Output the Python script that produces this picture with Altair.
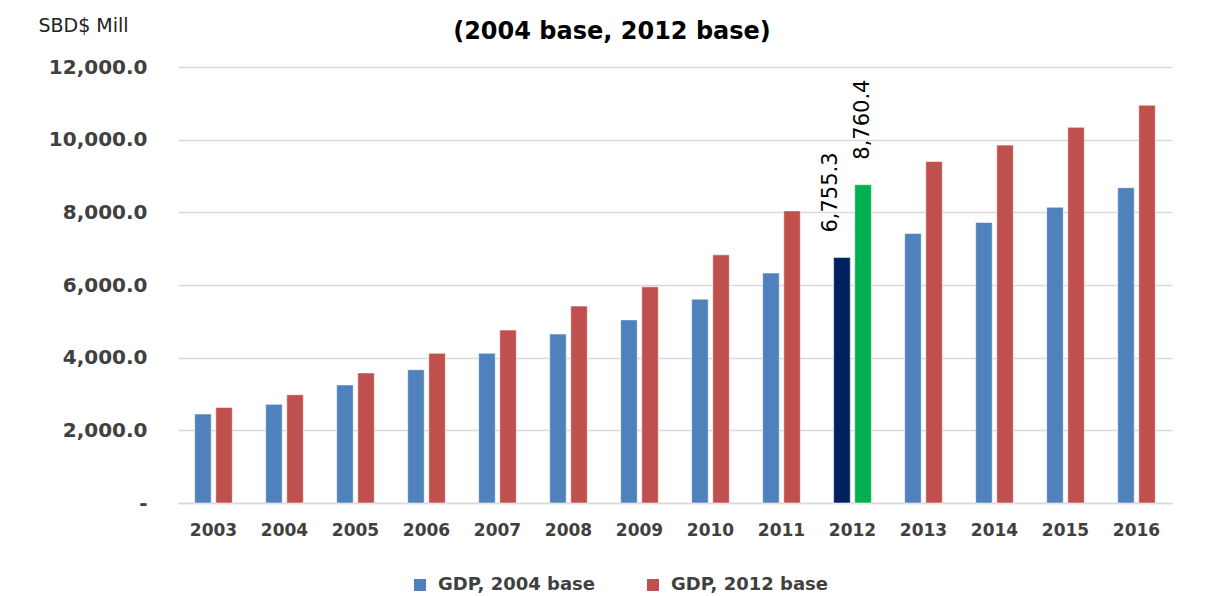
import altair as alt
import pandas as pd

years = [str(y) for y in range(2003, 2017)]
gdp_2004_base = [2450, 2715, 3250, 3670, 4120, 4650, 5040, 5610, 6330, 6755.3, 7420, 7720, 8140, 8680]
gdp_2012_base = [2630, 2980, 3580, 4120, 4760, 5420, 5950, 6830, 8040, 8760.4, 9400, 9850, 10340, 10950]
series_names = ["GDP, 2004 base", "GDP, 2012 base"]
series_colors = ["#4F81BD", "#C0504D"]
highlight_year = "2012"
highlight_colors = {"GDP, 2004 base": "#002060", "GDP, 2012 base": "#00B050"}
y_ticks = [0, 2000, 4000, 6000, 8000, 10000, 12000]

rows = []
for i, y in enumerate(years):
    rows.append({"year": y, "series": series_names[0], "value": gdp_2004_base[i]})
    rows.append({"year": y, "series": series_names[1], "value": gdp_2012_base[i]})
df = pd.DataFrame(rows)

FONT = "DejaVu Sans"
GRID = "#d9d9d9"
TXT = "#404040"

x_enc = alt.X("year:N", sort=years,
              scale=alt.Scale(paddingInner=0.47, paddingOuter=0.235),
              axis=alt.Axis(title=None, labelAngle=0, ticks=False, domainColor=GRID, domainWidth=1.5,
                            labelFont=FONT, labelFontSize=17, labelFontWeight="bold", labelColor=TXT,
                            labelPadding=19))
xoff = alt.XOffset("series:N", sort=series_names,
                   scale=alt.Scale(paddingInner=0.214, paddingOuter=0))
y_enc = alt.Y("value:Q", scale=alt.Scale(domain=[0, 12000], nice=False),
              axis=alt.Axis(values=y_ticks, grid=True, gridColor=GRID, gridWidth=1.5,
                            domain=False, ticks=False,
                            labelExpr="datum.value == 0 ? '-' : format(datum.value, ',.1f')",
                            labelFont=FONT, labelFontSize=20, labelFontWeight="bold", labelColor=TXT,
                            labelPadding=31,
                            title="SBD$ Mill", titleAngle=0, titleAlign="left", titleBaseline="middle",
                            titleX=-140, titleY=-42, titleFont=FONT, titleFontSize=19,
                            titleFontWeight="normal", titleColor="#222222"))

base = alt.Chart(df)

bars = base.mark_bar(stroke="white", strokeWidth=0.8, strokeOpacity=0.7).encode(
    x=x_enc, xOffset=xoff, y=y_enc,
    color=alt.Color("series:N", sort=series_names,
                    scale=alt.Scale(domain=series_names, range=series_colors),
                    legend=alt.Legend(title=None, orient="none", direction="horizontal",
                                      legendX=233, legendY=509, symbolType="square", symbolSize=144,
                                      symbolStrokeWidth=0, labelFont=FONT, labelFontSize=18,
                                      labelFontWeight="bold", labelColor=TXT, labelOffset=9,
                                      columnPadding=48, labelLimit=300))
)

hl_blue = base.transform_filter(
    (alt.datum.year == highlight_year) & (alt.datum.series == series_names[0])
).mark_bar(color=highlight_colors[series_names[0]], stroke="white", strokeWidth=0.8, strokeOpacity=0.7).encode(
    x=alt.X("year:N", sort=years), xOffset=alt.XOffset("series:N", sort=series_names), y="value:Q")

hl_green = base.transform_filter(
    (alt.datum.year == highlight_year) & (alt.datum.series == series_names[1])
).mark_bar(color=highlight_colors[series_names[1]], stroke="white", strokeWidth=0.8, strokeOpacity=0.7).encode(
    x=alt.X("year:N", sort=years), xOffset=alt.XOffset("series:N", sort=series_names), y="value:Q")

lbl_blue = base.transform_filter(
    (alt.datum.year == highlight_year) & (alt.datum.series == series_names[0])
).mark_text(angle=270, align="left", baseline="middle", dx=25, dy=-11, font=FONT, fontSize=21,
            color="black").encode(
    x=alt.X("year:N", sort=years), xOffset=alt.XOffset("series:N", sort=series_names), y="value:Q",
    text=alt.Text("value:Q", format=",.1f"))

lbl_green = base.transform_filter(
    (alt.datum.year == highlight_year) & (alt.datum.series == series_names[1])
).mark_text(angle=270, align="left", baseline="middle", dx=25, dy=0, font=FONT, fontSize=21,
            color="black").encode(
    x=alt.X("year:N", sort=years), xOffset=alt.XOffset("series:N", sort=series_names), y="value:Q",
    text=alt.Text("value:Q", format=",.1f"))

chart = alt.layer(bars, hl_blue, hl_green, lbl_blue, lbl_green).properties(
    width=994, height=436,
    title=alt.TitleParams("(2004 base, 2012 base)", font=FONT, fontSize=24, fontWeight="bold",
                          color="black", anchor="middle", dx=-63, dy=32),
    autosize=alt.AutoSizeParams(type="none"),
    padding={"left": 170, "top": 59, "right": 26, "bottom": 110},
    background="white",
).configure_view(stroke=None)

chart.save("out.html", embed_options={"renderer": "svg", "actions": False})
